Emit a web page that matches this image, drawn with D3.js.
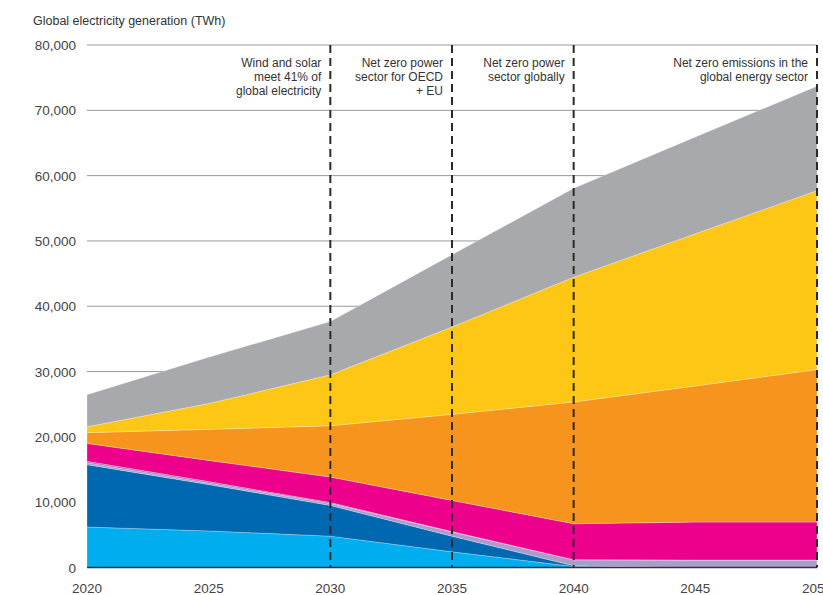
<!DOCTYPE html>
<html>
<head>
<meta charset="utf-8">
<script src="https://cdn.jsdelivr.net/npm/d3@7"></script>
<style>
  body { margin: 0; background: #fff; }
  svg { display: block; font-family: "Liberation Sans", Arial, sans-serif; }
</style>
</head>
<body>
<svg id="chart" width="823" height="595"></svg>
<script>
// years on the x axis
var years = [2020, 2025, 2030, 2035, 2040, 2045, 2050];

// generation by source (TWh), bottom layer first
var gas      = [6200, 5600, 4800, 2400, 150, 0, 0];
var coal     = [9550, 7100, 4700, 2400, 100, 0, 0];
var ccus     = [300, 250, 300, 650, 950, 1150, 1150];
var oil      = [200, 200, 150, 50, 0, 0, 0];
var nuclear  = [2750, 3250, 3900, 4770, 5500, 5800, 5800];
var solar    = [1650, 4750, 7850, 13180, 18650, 20850, 23350];
var wind     = [900, 3950, 7800, 13380, 19100, 23300, 27400];
var other    = [4900, 7100, 8150, 11070, 13600, 14800, 16000];

var yTicks = [0, 10000, 20000, 30000, 40000, 50000, 60000, 70000, 80000];
var xTicks = [2020, 2025, 2030, 2035, 2040, 2045, 2050];

// milestones marked with dashed lines
var milestoneYears = [2030, 2035, 2040, 2050];
var milestoneText = [
  ["Wind and solar", "meet 41% of", "global electricity"],
  ["Net zero power", "sector for OECD", "+ EU"],
  ["Net zero power", "sector globally"],
  ["Net zero emissions in the", "global energy sector"]
];

var keys = ["gas", "coal", "ccus", "oil", "nuclear", "solar", "wind", "other"];
var colors = {gas:"#00aeef", coal:"#0067b1", ccus:"#ab9ccb", oil:"#8c6db4",
              nuclear:"#ec008c", solar:"#f7941e", wind:"#fec615", other:"#a7a9ac"};

var rows = years.map(function(y, i){
  return {year:y, gas:gas[i], coal:coal[i], ccus:ccus[i], oil:oil[i],
          nuclear:nuclear[i], solar:solar[i], wind:wind[i], other:other[i]};
});

var svg = d3.select("#chart");

var x = d3.scaleLinear().domain([2020, 2050]).range([87, 817]);
var y = d3.scaleLinear().domain([0, 80000]).range([567.5, 45]);

// title
svg.append("text")
  .attr("x", 33).attr("y", 25)
  .attr("fill", "#333")
  .style("font-size", "12.5px")
  .text("Global electricity generation (TWh)");

// gridlines
svg.append("g").selectAll("line")
  .data(yTicks.filter(d => d > 0))
  .enter().append("line")
  .attr("x1", 87).attr("x2", 817)
  .attr("y1", d => y(d)).attr("y2", d => y(d))
  .attr("stroke", "#9a9a9a")
  .attr("stroke-width", 1);

// y labels
svg.append("g").selectAll("text")
  .data(yTicks)
  .enter().append("text")
  .attr("x", 76).attr("y", d => y(d) + 5)
  .attr("text-anchor", "end")
  .attr("fill", "#444")
  .style("font-size", "13.5px")
  .text(d => d3.format(",")(d));

// stacked areas
var series = d3.stack().keys(keys)(rows);

var area = d3.area()
  .x(d => x(d.data.year))
  .y0(d => y(d[0]))
  .y1(d => y(d[1]));

svg.append("g").selectAll("path")
  .data(series)
  .enter().append("path")
  .attr("d", area)
  .attr("fill", d => colors[d.key])
  .attr("stroke", "#fff")
  .attr("stroke-opacity", 0.5)
  .attr("stroke-width", 0.5);

// baseline
svg.append("line")
  .attr("x1", 87).attr("x2", 817)
  .attr("y1", y(0)).attr("y2", y(0))
  .attr("stroke", "#333")
  .attr("stroke-width", 1.5);

// x labels
svg.append("g").selectAll("text")
  .data(xTicks)
  .enter().append("text")
  .attr("x", d => x(d)).attr("y", 593)
  .attr("text-anchor", "middle")
  .attr("fill", "#444")
  .style("font-size", "13.5px")
  .text(d => d);

// milestone lines and notes
var ms = svg.append("g").selectAll("g")
  .data(milestoneYears)
  .enter().append("g");

ms.append("line")
  .attr("x1", d => x(d)).attr("x2", d => x(d))
  .attr("y1", y(80000)).attr("y2", y(0))
  .attr("stroke", "#2a2a2a")
  .attr("stroke-width", 2)
  .attr("stroke-dasharray", "8,5");

ms.append("text")
  .attr("text-anchor", "end")
  .attr("fill", "#333")
  .style("font-size", "12px")
  .each(function(d, i){
    var t = d3.select(this);
    milestoneText[i].forEach(function(line, j){
      t.append("tspan")
        .attr("x", x(d) - 9)
        .attr("y", 67 + j * 14)
        .text(line);
    });
  });
</script>
</body>
</html>
